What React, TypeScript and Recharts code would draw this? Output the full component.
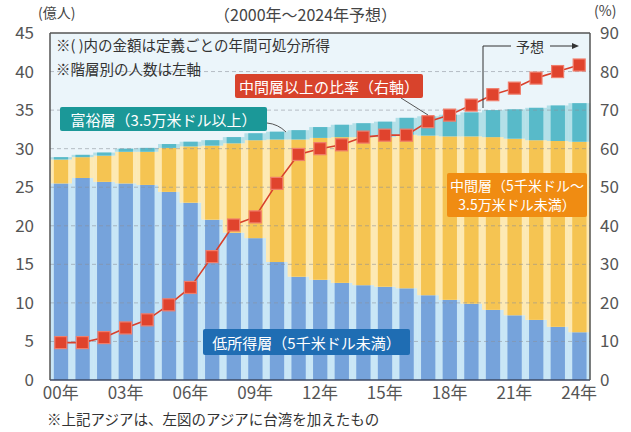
import React from 'react';
import { ComposedChart, Bar, Line, XAxis, YAxis, CartesianGrid, ReferenceLine } from 'recharts';

const years = ['00', '01', '02', '03', '04', '05', '06', '07', '08', '09', '10', '11', '12', '13', '14', '15', '16', '17', '18', '19', '20', '21', '22', '23', '24'];
// 億人
const lowIncome = [25.5, 26.2, 25.7, 25.5, 25.3, 24.4, 23.0, 20.8, 19.1, 18.4, 15.3, 13.4, 13.0, 12.6, 12.3, 12.1, 11.9, 11.0, 10.4, 9.9, 9.1, 8.4, 7.8, 6.9, 6.2];
const middleIncome = [3.1, 2.7, 3.4, 4.1, 4.3, 5.7, 7.3, 9.6, 11.6, 12.7, 15.9, 17.8, 18.4, 18.9, 19.2, 19.4, 19.9, 20.7, 21.2, 21.7, 22.4, 22.9, 23.3, 24.1, 24.7];
const wealthy = [0.3, 0.3, 0.4, 0.4, 0.5, 0.5, 0.6, 0.7, 0.8, 0.9, 1.0, 1.2, 1.4, 1.6, 1.8, 2.0, 2.2, 2.5, 2.8, 3.1, 3.5, 3.8, 4.2, 4.6, 5.0];
// %
const middleShare = [9.7, 9.7, 11, 13.5, 15.6, 19.5, 24, 32, 40.2, 42.3, 51, 58.5, 60, 61, 63, 63.5, 63.5, 67, 68.7, 71.3, 74, 75.7, 78.3, 80, 81.7];

const leftTicks = [0, 5, 10, 15, 20, 25, 30, 35, 40, 45];
const rightTicks = [0, 10, 20, 30, 40, 50, 60, 70, 80, 90];

const data = years.map((y, i) => ({
  year: y,
  low: lowIncome[i],
  middle: middleIncome[i],
  rich: wealthy[i],
  share: middleShare[i],
}));

const FONT = "'Noto Sans CJK JP', 'Noto Sans', sans-serif";

// bar drawn as a pale strip over the whole category with a darker core in the middle
const stripedBar = (dark: string, light: string) => (props: any) => {
  const { x, y, width, height } = props;
  if (!height || height <= 0) return <g />;
  const core = width * 0.65;
  return (
    <g>
      <rect x={x} y={y} width={width} height={height} fill={light} />
      <rect x={x + (width - core) / 2} y={y} width={core} height={height} fill={dark} />
    </g>
  );
};

const SquareDot = (props: any) => {
  const { cx, cy } = props;
  if (cx == null || cy == null) return <g />;
  return <rect x={cx - 6} y={cy - 6} width={12} height={12} fill="#e0432d" stroke="#f07e6c" strokeWidth={1.2} />;
};

const tickStyle = { fontSize: 17, fill: '#555', fontFamily: FONT };

const boxStyle = (left: number, top: number, w: number, h: number, bg: string): React.CSSProperties => ({
  position: 'absolute',
  left,
  top,
  width: w,
  height: h,
  background: bg,
  color: '#fff',
  fontSize: 15,
  fontFamily: FONT,
  display: 'flex',
  flexDirection: 'column',
  alignItems: 'center',
  justifyContent: 'center',
  lineHeight: '19px',
  borderRadius: 2,
  whiteSpace: 'nowrap',
});

const textStyle = (left: number, top: number, size: number, color = '#444'): React.CSSProperties => ({
  position: 'absolute',
  left,
  top,
  fontSize: size,
  color,
  fontFamily: FONT,
  whiteSpace: 'nowrap',
  lineHeight: 1,
});

export default function App() {
  return (
    <div style={{ position: 'absolute', left: 0, top: 0, width: 631, height: 432, background: '#fff', overflow: 'hidden' }}>
      <ComposedChart width={631} height={432} data={data} margin={{ top: 33, right: 0, bottom: 22, left: 0 }} barCategoryGap={0} barGap={0}>
        <CartesianGrid fill="#ebf5fa" horizontal={false} vertical={false} />
        <XAxis
          dataKey="year"
          interval={2}
          tickFormatter={(v) => `${v}年`}
          tick={tickStyle}
          tickLine={false}
          tickSize={0}
          tickMargin={7}
          height={30}
          axisLine={{ stroke: '#3d4a66', strokeWidth: 1.5 }}
        />
        <YAxis
          yAxisId="left"
          domain={[0, 45]}
          ticks={leftTicks}
          interval={0}
          width={50}
          tick={tickStyle}
          tickLine={false}
          tickSize={0}
          tickMargin={16}
          axisLine={{ stroke: '#555', strokeWidth: 1.5 }}
        />
        <YAxis
          yAxisId="right"
          orientation="right"
          domain={[0, 90]}
          ticks={rightTicks}
          interval={0}
          width={41}
          tick={tickStyle}
          tickLine={false}
          tickSize={0}
          tickMargin={10}
          axisLine={{ stroke: '#555', strokeWidth: 1.5 }}
        />
        <Bar yAxisId="left" dataKey="low" stackId="a" isAnimationActive={false} shape={stripedBar('#76a3db', '#c9e6f6')} />
        <Bar yAxisId="left" dataKey="middle" stackId="a" isAnimationActive={false} shape={stripedBar('#f5c452', '#fde9b3')} />
        <Bar yAxisId="left" dataKey="rich" stackId="a" isAnimationActive={false} shape={stripedBar('#58bac9', '#b3e0e8')} />
        {leftTicks.slice(1, -1).map((t) => (
          <ReferenceLine key={t} yAxisId="left" y={t} stroke="#8a8f99" strokeDasharray="4 3" strokeWidth={0.8} strokeOpacity={0.7} />
        ))}
        <ReferenceLine yAxisId="left" y={45} stroke="#555" strokeWidth={1.5} />
        <Line
          yAxisId="right"
          dataKey="share"
          stroke="#d8402c"
          strokeWidth={1.6}
          dot={<SquareDot />}
          activeDot={false}
          isAnimationActive={false}
        />
      </ComposedChart>

      <div style={{ ...textStyle(214, 6, 16, '#444') }}>（2000年～2024年予想）</div>
      <div style={{ ...textStyle(38, 5, 14) }}>(億人)</div>
      <div style={{ ...textStyle(594, 3, 14) }}>(%)</div>

      <div style={{ ...textStyle(56, 38, 14.5, '#333') }}>※( )内の金額は定義ごとの年間可処分所得</div>
      <div style={{ ...textStyle(56, 62, 14.5, '#333') }}>※階層別の人数は左軸</div>

      <div style={boxStyle(235, 74, 188, 24, '#d8432c')}>中間層以上の比率（右軸）</div>
      <div style={boxStyle(60, 107, 207, 24, '#1b9898')}>富裕層（3.5万米ドル以上）</div>
      <div style={{ ...boxStyle(447, 173, 140, 44, '#f08c12'), fontSize: 14 }}>
        <span>中間層（5千米ドル～</span>
        <span>3.5万米ドル未満）</span>
      </div>
      <div style={boxStyle(203, 329, 207, 26, '#1f6db3')}>低所得層（5千米ドル未満）</div>

      <div style={{ ...textStyle(516, 39, 14, '#333') }}>予想</div>

      <svg width={631} height={432} style={{ position: 'absolute', left: 0, top: 0, pointerEvents: 'none' }}>
        <polyline points="483,108 483,46 511,46" fill="none" stroke="#333" strokeWidth={1} />
        <line x1={550} y1={46} x2={573} y2={46} stroke="#333" strokeWidth={1} />
        <polygon points="579,46 572,43 572,49" fill="#333" />
        <line x1={401} y1={98} x2={428} y2={115} stroke="#555" strokeWidth={1} />
        <path d="M267,123 Q278,124 286,132" fill="none" stroke="#555" strokeWidth={1} />
      </svg>

      <div style={{ ...textStyle(47, 412, 14.5, '#333') }}>※上記アジアは、左図のアジアに台湾を加えたもの</div>
    </div>
  );
}
